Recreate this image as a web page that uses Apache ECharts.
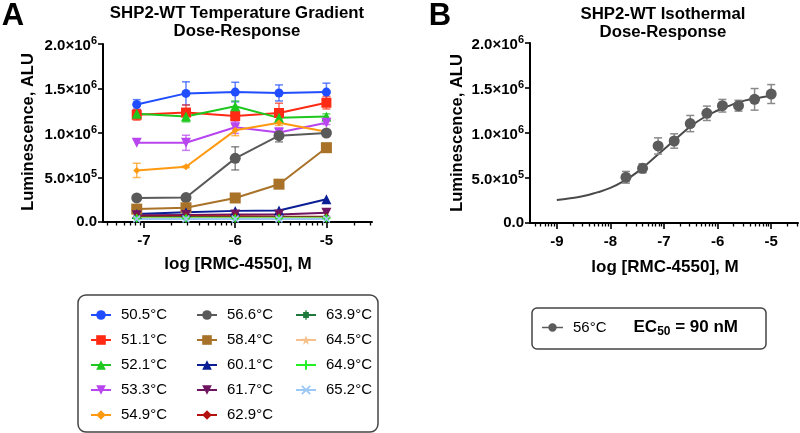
<!DOCTYPE html>
<html>
<head>
<meta charset="utf-8">
<script src="https://cdn.jsdelivr.net/npm/echarts@6/dist/echarts.min.js"></script>
<style>
html, body { margin: 0; padding: 0; background: #fff; }
#chart { width: 800px; height: 433px; }
</style>
</head>
<body>
<div id="chart"></div>
<script>
const FONT = '"Liberation Sans", Arial, Helvetica, sans-serif';

// ---- panel A: temperature gradient ----
const dosesA = [-7.08, -6.54, -6.0, -5.52, -5.0];
const tempsA = ['50.5°C', '51.1°C', '52.1°C', '53.3°C', '54.9°C',
                '56.6°C', '58.4°C', '60.1°C', '61.7°C', '62.9°C',
                '63.9°C', '64.5°C', '64.9°C', '65.2°C'];

const lum505 = [1.32e6, 1.445e6, 1.46e6, 1.45e6, 1.46e6];
const lum511 = [1.205e6, 1.23e6, 1.19e6, 1.225e6, 1.34e6];
const lum521 = [1.215e6, 1.185e6, 1.30e6, 1.17e6, 1.185e6];
const lum533 = [0.89e6, 0.89e6, 1.065e6, 1.005e6, 1.115e6];
const lum549 = [0.58e6, 0.62e6, 1.03e6, 1.115e6, 1.015e6];
const lum566 = [0.27e6, 0.275e6, 0.715e6, 0.97e6, 1.0e6];
const lum584 = [0.145e6, 0.16e6, 0.27e6, 0.425e6, 0.835e6];
const lum601 = [0.09e6, 0.11e6, 0.125e6, 0.13e6, 0.255e6];
const lum617 = [0.075e6, 0.08e6, 0.085e6, 0.085e6, 0.105e6];
const lum629 = [0.06e6, 0.065e6, 0.065e6, 0.06e6, 0.06e6];
const lum639 = [0.05e6, 0.052e6, 0.05e6, 0.05e6, 0.05e6];
const lum645 = [0.045e6, 0.046e6, 0.045e6, 0.045e6, 0.045e6];
const lum649 = [0.04e6, 0.04e6, 0.04e6, 0.04e6, 0.04e6];
const lum652 = [0.035e6, 0.035e6, 0.035e6, 0.035e6, 0.035e6];

const err505 = [0.055e6, 0.13e6, 0.11e6, 0.09e6, 0.1e6];
const err511 = [0.06e6, 0.085e6, 0.05e6, 0.11e6, 0.07e6];
const err521 = [0.03e6, 0.06e6, 0.06e6, 0.04e6, 0.03e6];
const err533 = [0, 0.085e6, 0.07e6, 0.05e6, 0.02e6];
const err549 = [0.08e6, 0.01e6, 0.06e6, 0.03e6, 0.02e6];
const err566 = [0.01e6, 0.01e6, 0.13e6, 0.07e6, 0.02e6];
const errNone = [0, 0, 0, 0, 0];

const valuesA = [lum505, lum511, lum521, lum533, lum549, lum566, lum584,
                 lum601, lum617, lum629, lum639, lum645, lum649, lum652];
const errorsA = [err505, err511, err521, err533, err549, err566, errNone,
                 errNone, errNone, errNone, errNone, errNone, errNone, errNone];

// ---- panel B: isothermal 56°C ----
const dosesB = [-7.71, -7.40, -7.11, -6.81, -6.51, -6.20, -5.91, -5.61, -5.31, -5.0];
const lumB = [0.508e6, 0.608e6, 0.856e6, 0.911e6, 1.105e6, 1.219e6, 1.303e6, 1.303e6, 1.374e6, 1.433e6];
const errB = [0.065e6, 0.05e6, 0.09e6, 0.08e6, 0.09e6, 0.08e6, 0.07e6, 0.06e6, 0.12e6, 0.105e6];
const fitX = [-9, -8.75, -8.5, -8.25, -8, -7.75, -7.5, -7.25, -7, -6.75, -6.5, -6.25, -6, -5.75, -5.5, -5.25, -5];
const fitY = [0.256e6, 0.275e6, 0.30e6, 0.34e6, 0.39e6, 0.465e6, 0.565e6, 0.69e6, 0.82e6, 0.95e6,
              1.075e6, 1.175e6, 1.25e6, 1.31e6, 1.36e6, 1.39e6, 1.41e6];

const colorsA = ['#1f4dff', '#ff2a14', '#1ec81e', '#b845f0', '#ff9a10',
                 '#5a5a5a', '#a87228', '#0a1e96', '#6e1460', '#b4100e',
                 '#1e7a3c', '#f5c08a', '#22f022', '#9cc8f5'];
const downTri = 'path://M0,0 L10,0 L5,9 Z';
const star = 'path://M5,0 L6.2,3.6 L10,3.6 L6.9,5.8 L8.1,9.5 L5,7.2 L1.9,9.5 L3.1,5.8 L0,3.6 L3.8,3.6 Z';
const plus = 'path://M4,0 H6 V4 H10 V6 H6 V10 H4 V6 H0 V4 H4 Z';
const cross = 'path://M1.4,0 L5,3.6 L8.6,0 L10,1.4 L6.4,5 L10,8.6 L8.6,10 L5,6.4 L1.4,10 L0,8.6 L3.6,5 L0,1.4 Z';
const asterisk = 'path://M2,2 H8 V8 H2 Z M4.3,0 H5.7 V10 H4.3 Z M0,4.3 H10 V5.7 H0 Z';
const symbolsA = ['circle', 'rect', 'triangle', downTri, 'diamond',
                  'circle', 'rect', 'triangle', downTri, 'diamond',
                  asterisk, star, plus, cross];
const sizesA = [9, 10, 10, 10, 7, 11, 11, 10, 10, 8, 8, 8, 8, 8];

function minorTicks(lo, hi) {
  const out = [];
  for (let n = Math.floor(lo); n <= Math.ceil(hi); n++) {
    for (let k = 2; k <= 9; k++) {
      const v = n + Math.log10(k);
      if (v >= lo && v <= hi) out.push(v);
    }
  }
  return out;
}

function sciLabel(v) {
  if (v === 0) return '{m|0.0}';
  const e = Math.floor(Math.log10(v) + 1e-9);
  const m = (v / Math.pow(10, e)).toFixed(1);
  return '{m|' + m + '×10}{s|' + e + '}';
}

function errorBars(color, cap, opacity) {
  return function (params, api) {
    const x = api.value(0), lo = api.value(1), hi = api.value(2);
    if (hi - lo <= 0) return null;
    const a = api.coord([x, lo]), b = api.coord([x, hi]);
    const st = { stroke: color, lineWidth: 1.5, opacity: opacity };
    return {
      type: 'group',
      children: [
        { type: 'line', shape: { x1: a[0], y1: a[1], x2: b[0], y2: b[1] }, style: st },
        { type: 'line', shape: { x1: a[0] - cap, y1: a[1], x2: a[0] + cap, y2: a[1] }, style: st },
        { type: 'line', shape: { x1: b[0] - cap, y1: b[1], x2: b[0] + cap, y2: b[1] }, style: st }
      ]
    };
  };
}

function mainX(grid, min, max, majors) {
  return {
    type: 'value', gridIndex: grid, min: min, max: max, position: 'bottom',
    axisLine: { show: true, onZero: false, lineStyle: { color: '#000', width: 2 } },
    axisTick: { show: true, customValues: majors, length: 6, lineStyle: { color: '#000', width: 1.6 } },
    axisLabel: { show: true, customValues: majors, margin: 11, color: '#000',
                 fontFamily: FONT, fontWeight: 'bold', fontSize: 15, formatter: v => String(v) },
    splitLine: { show: false }
  };
}
function minorX(grid, min, max) {
  return {
    type: 'value', gridIndex: grid, min: min, max: max, position: 'bottom',
    axisLine: { show: false, onZero: false },
    axisTick: { show: true, customValues: minorTicks(min, max), length: 3.5, lineStyle: { color: '#000', width: 1.3 } },
    axisLabel: { show: false },
    splitLine: { show: false }
  };
}
function mainY(grid) {
  return {
    type: 'value', gridIndex: grid, min: 0, max: 2e6, interval: 5e5,
    axisLine: { show: true, lineStyle: { color: '#000', width: 2 } },
    axisTick: { show: true, length: 5, lineStyle: { color: '#000', width: 1.6 } },
    axisLabel: {
      show: true, margin: 6, formatter: sciLabel,
      rich: {
        m: { fontFamily: FONT, fontWeight: 'bold', fontSize: 15, color: '#000', verticalAlign: 'bottom' },
        s: { fontFamily: FONT, fontWeight: 'bold', fontSize: 11, color: '#000', verticalAlign: 'bottom', padding: [0, 0, 7, 0] }
      }
    },
    splitLine: { show: false }
  };
}

const series = [];
valuesA.forEach((vals, i) => {
  const err = errorsA[i];
  series.push({
    name: tempsA[i] + ' err', type: 'custom', xAxisIndex: 0, yAxisIndex: 0, z: 2, silent: true,
    renderItem: errorBars(colorsA[i], 4, 0.7),
    encode: { x: 0, y: [1, 2] },
    data: dosesA.map((x, j) => [x, vals[j] - err[j], vals[j] + err[j]])
  });
  series.push({
    name: tempsA[i], type: 'line', xAxisIndex: 0, yAxisIndex: 0, z: 3,
    symbol: symbolsA[i], symbolSize: sizesA[i], showAllSymbol: true,
    lineStyle: { color: colorsA[i], width: 2 },
    itemStyle: { color: colorsA[i] },
    data: dosesA.map((x, j) => [x, vals[j]])
  });
});
series.push({
  name: 'fit', type: 'line', xAxisIndex: 1, yAxisIndex: 1, smooth: true, showSymbol: false, z: 2,
  lineStyle: { color: '#4a4a4a', width: 2 },
  data: fitX.map((x, j) => [x, fitY[j]])
});
series.push({
  name: '56°C err', type: 'custom', xAxisIndex: 1, yAxisIndex: 1, z: 3, silent: true,
  renderItem: errorBars('#8a8a8a', 4, 1),
  encode: { x: 0, y: [1, 2] },
  data: dosesB.map((x, j) => [x, lumB[j] - errB[j], lumB[j] + errB[j]])
});
series.push({
  name: '56°C', type: 'scatter', xAxisIndex: 1, yAxisIndex: 1, z: 4,
  symbol: 'circle', symbolSize: 11, itemStyle: { color: '#5b5b5b', opacity: 1 },
  data: dosesB.map((x, j) => [x, lumB[j]])
});

function colLegend(left, names) {
  return {
    orient: 'vertical', left: left, top: 307, padding: 0,
    itemWidth: 20, itemHeight: 12, itemGap: 9,
    selectedMode: false, data: names,
    textStyle: { fontFamily: FONT, fontSize: 15, color: '#000', lineHeight: 16, padding: [0, 0, 0, 5] }
  };
}

const lineIcon = 'path://M0,4.2 H6.2 V5.8 H0 Z M13.8,4.2 H20 V5.8 H13.8 Z M14,5 A4,4 0 1,1 6,5 A4,4 0 1,1 14,5 Z';

const gText = (x, y, text, size, rot) => ({
  type: 'text', x: x, y: y, rotation: rot || 0,
  style: { text: text, fill: '#000', fontFamily: FONT, fontWeight: 'bold', fontSize: size,
           align: 'center', verticalAlign: 'middle' }
});

const option = {
  backgroundColor: '#fff',
  animation: false,
  grid: [
    { left: 103, top: 44, width: 269, height: 178 },
    { left: 530, top: 43, width: 268, height: 180 }
  ],
  xAxis: [
    mainX(0, -7.45, -4.5, [-7, -6, -5]),
    mainX(1, -9.5, -4.5, [-9, -8, -7, -6, -5]),
    minorX(0, -7.45, -4.5),
    minorX(1, -9.5, -4.5)
  ],
  yAxis: [mainY(0), mainY(1)],
  legend: [
    colLegend(90, tempsA.slice(0, 5)),
    colLegend(196, tempsA.slice(5, 10)),
    colLegend(295, tempsA.slice(10)),
    {
      left: 542, top: 319, padding: 0, itemWidth: 21, itemHeight: 10, selectedMode: false,
      data: [{ name: '56°C', icon: lineIcon, itemStyle: { color: '#5b5b5b' } }],
      formatter: name => '{a|' + name + '}{g|}{b|EC}{sub|50}{b| = 90 nM}',
      textStyle: {
        padding: [0, 0, 0, 5],
        rich: {
          a: { fontFamily: FONT, fontSize: 15, color: '#000' },
          g: { width: 27 },
          b: { fontFamily: FONT, fontSize: 17, fontWeight: 'bold', color: '#000' },
          sub: { fontFamily: FONT, fontSize: 12, fontWeight: 'bold', color: '#000', padding: [8, 0, 0, 0] }
        }
      }
    }
  ],
  graphic: [
    gText(13, 16, 'A', 31),
    gText(440, 16, 'B', 31),
    gText(237, 13, 'SHP2-WT Temperature Gradient', 16.8),
    gText(237, 31, 'Dose-Response', 16.8),
    gText(663, 14, 'SHP2-WT Isothermal', 16.8),
    gText(663, 32, 'Dose-Response', 16.8),
    gText(28, 132, 'Luminescence, ALU', 16.5, Math.PI / 2),
    gText(457, 133, 'Luminescence, ALU', 16.5, Math.PI / 2),
    gText(238, 264, 'log [RMC-4550], M', 17),
    gText(665, 267, 'log [RMC-4550], M', 17),
    { type: 'rect', shape: { x: 78, y: 295, width: 300, height: 137, r: 8 },
      style: { fill: 'none', stroke: '#444', lineWidth: 1.5 } },
    { type: 'rect', shape: { x: 532, y: 308, width: 234, height: 41, r: 5 },
      style: { fill: 'none', stroke: '#444', lineWidth: 1.5 } }
  ],
  series: series
};

const chart = echarts.init(document.getElementById('chart'));
chart.setOption(option);
</script>
</body>
</html>
